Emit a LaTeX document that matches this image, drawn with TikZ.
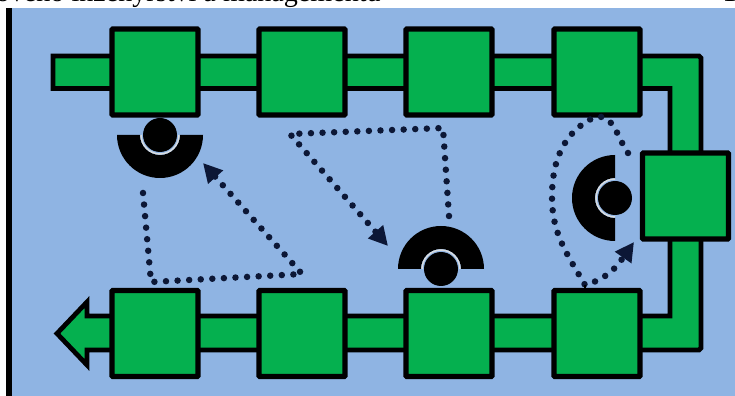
\documentclass[tikz,border=0pt]{standalone}
\usepackage{fontspec}
\setmainfont{Liberation Serif}
\usetikzlibrary{arrows.meta,positioning,calc}
\definecolor{beltgreen}{HTML}{05B04F}
\definecolor{floorblue}{HTML}{8FB4E3}
\definecolor{dotnavy}{HTML}{0C1736}
\definecolor{ringgrey}{HTML}{D8DCE0}

\tikzset{
  station/.style={draw=black, fill=beltgreen, line width=0.105cm, minimum size=1.72cm, inner sep=0pt, rounded corners=0.5pt},
  belt/.style={draw=black, fill=beltgreen, line width=0.095cm, line join=miter},
  route/.style={dotnavy, line width=0.13cm, line cap=round, dash pattern=on 0pt off 0.232cm},
  routetip/.style={-{Triangle[length=0.38cm,width=0.38cm]}},
  robot/.pic={
    \fill[black] (180:43) arc (180:360:43) -- (0:20) arc (360:180:20) -- cycle;
    \draw[ringgrey, line width=0.03cm] (180:19) arc (180:360:19);
    \fill[black] (0,0) circle (17);
  }
}

\begin{document}
\begin{tikzpicture}[x=0.02cm,y=0.02cm]
  \useasboundingbox (0,0) rectangle (735,396);
  \fill[white] (0,0) rectangle (735,396);
  \fill[floorblue] (6,0) rectangle (735,388);
  \fill[black] (6,0) rectangle (12,388);

  % clipped heading
  \begin{scope}
    \clip (0,388) rectangle (735,396);
    \node[anchor=base east, font=\fontsize{16}{18}\selectfont, inner sep=0pt] (heading) at (381,394) {ového inženýrství a managementu};
    \node[anchor=base east, font=\fontsize{16}{18}\selectfont, inner sep=0pt] (pageno) at (737,394) {1};
  \end{scope}

  % conveyor
  \draw[belt] (53,340) -- (699,340) -- (701,338) -- (701,48) -- (699,46) -- (87,46) -- (87,31) -- (57,62.5) -- (87,94) -- (87,80)
    -- (670,80) -- (670,307.5) -- (53,307.5) -- cycle;

  % stations
  \foreach \i/\x in {1/155,2/302,3/449,4/597} {
    \node[station] (top\i) at (\x,324) {};
    \node[station] (bot\i) at (\x,62.5) {};
  }
  \node[station] (side) at (685.5,200) {};

  % robots
  \coordinate (rob1) at (160,261);
  \coordinate (rob2) at (441,127);
  \coordinate (rob3) at (615,198);
  \pic at (rob1) {robot};
  \pic[rotate=180] at (rob2) {robot};
  \pic[rotate=-90] at (rob3) {robot};

  % routes
  \coordinate (a1) at (143,203);
  \coordinate (a2) at (151,114);
  \coordinate (a3) at (302,122);
  \coordinate (a4) at (203,233);
  \draw[route, routetip] (a1) -- (a2) -- (a3) -- (a4);

  \coordinate (c1) at (449,180);
  \coordinate (c2) at (443,268);
  \coordinate (c3) at (290,262);
  \coordinate (c4) at (388,150);
  \draw[route, routetip] (c1) -- (c2) -- (c3) -- (c4);

  \coordinate (d1) at (628,243);
  \coordinate (d2) at (595,279);
  \coordinate (d3) at (552,199);
  \coordinate (d4) at (585,111);
  \coordinate (d5) at (634,154);
  \draw[route, routetip] (d1) to[out=125,in=10] (d2) to[out=205,in=90] (d3) to[out=-90,in=120] (d4) to[out=15,in=235] (d5);
  \draw[black, line width=0.03cm] (d4) -- (d4 |- bot4.north);
\end{tikzpicture}
\end{document}
